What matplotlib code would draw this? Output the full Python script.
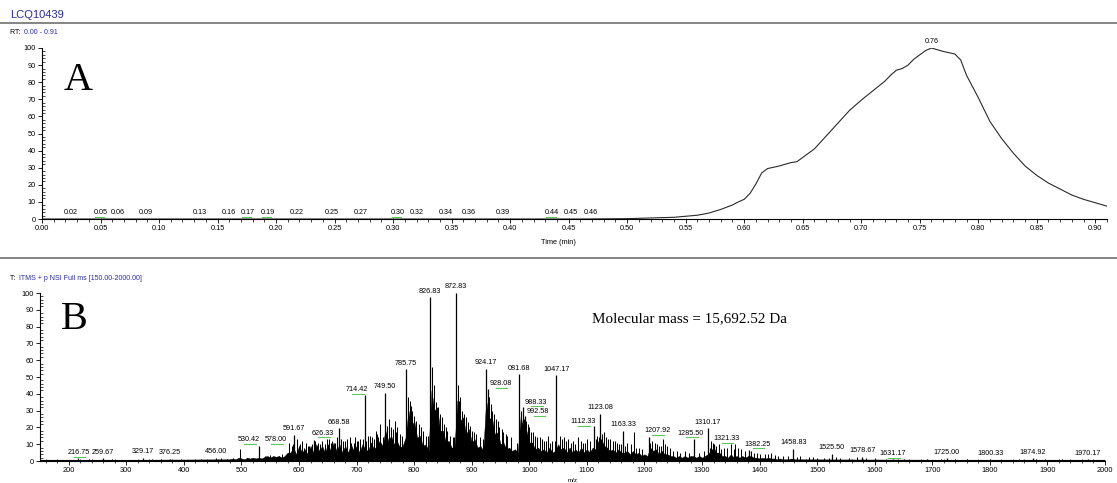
"""
plot.py

Two-panel LC-MS figure:
  A - total ion chromatogram (relative abundance vs time)
  B - full-scan mass spectrum of the protein (relative abundance vs m/z)

Output: out.png
"""

import numpy as np
import matplotlib.pyplot as plt
from matplotlib.lines import Line2D
from matplotlib.ticker import MultipleLocator

# ---------------------------------------------------------------- panel A data
tic_time = [0.00, 0.46, 0.50, 0.52, 0.54, 0.55, 0.56, 0.57, 0.58, 0.59, 0.595,
            0.60, 0.605, 0.61, 0.615, 0.62, 0.63, 0.64, 0.645, 0.65, 0.66, 0.67,
            0.68, 0.69, 0.70, 0.71, 0.72, 0.725, 0.73, 0.735, 0.74, 0.745, 0.75,
            0.755, 0.76, 0.765, 0.77, 0.78, 0.785, 0.79, 0.80, 0.81, 0.82, 0.83,
            0.84, 0.85, 0.86, 0.87, 0.88, 0.89, 0.90, 0.91]
tic_int = [0.0, 0.0, 0.2, 0.6, 1.0, 1.6, 2.2, 3.5, 5.6, 8.2, 10.0,
           11.5, 15.0, 20.5, 27.0, 29.5, 31.0, 33.0, 33.5, 36.0, 41.0, 48.5,
           56.0, 63.5, 69.5, 75.0, 80.5, 84.0, 87.0, 88.0, 90.0, 93.5, 96.0,
           98.5, 100.0, 99.0, 98.0, 96.5, 93.0, 84.0, 71.0, 57.0, 47.0, 38.5,
           31.0, 25.5, 21.0, 17.5, 14.0, 11.5, 9.5, 7.5]

# small noise peaks along the chromatogram baseline: apex time and its label
noise_times = [0.0245, 0.050, 0.065, 0.089, 0.135, 0.160, 0.176, 0.193, 0.218,
               0.248, 0.272, 0.304, 0.320, 0.345, 0.365, 0.394, 0.436, 0.452,
               0.469]
noise_labels = ["0.02", "0.05", "0.06", "0.09", "0.13", "0.16", "0.17", "0.19",
                "0.22", "0.25", "0.27", "0.30", "0.32", "0.34", "0.36", "0.39",
                "0.44", "0.45", "0.46"]
noise_green = [0.050, 0.176, 0.193, 0.304, 0.436]
apex_time = 0.76
apex_int = 100.0

# ---------------------------------------------------------------- panel B data
# dense unresolved "floor" of the spectrum, read every 5 m/z (plus end points)
floor_mz = ([150, 480] + list(range(485, 1460, 5)) + [1460, 2000])
floor_int = (
    [0.5, 1.0] +
    # 485 - 580
    [1.5, 1.0, 2.0, 1.5, 1.0, 2.0, 1.5, 2.0, 1.5, 2.0, 1.5, 2.5, 3.0, 2.0, 3.0,
     2.5, 3.0, 2.0, 3.0, 5.0] +
    # 585 - 680
    [5.0, 8.0, 4.0, 9.0, 5.0, 7.0, 4.0, 9.0, 5.0, 10.0, 6.0, 9.0, 5.0, 10.0,
     6.0, 11.0, 6.0, 10.0, 5.0, 9.0] +
    # 685 - 780
    [5.0, 10.0, 6.0, 9.0, 5.0, 10.0, 7.0, 6.0, 11.0, 7.0, 9.0, 12.0, 9.0, 18.0,
     12.0, 15.0, 10.0, 12.0, 8.0, 9.0] +
    # 785 - 880
    [14.0, 30.0, 20.0, 24.0, 14.0, 15.0, 9.0, 10.0, 6.0, 42.0, 30.0, 32.0,
     18.0, 18.0, 11.0, 12.0, 8.0, 8.0, 36.0, 24.0] +
    # 885 - 980
    [26.0, 16.0, 19.0, 11.0, 13.0, 8.0, 9.0, 6.0, 36.0, 25.0, 26.0, 16.0, 17.0,
     10.0, 11.0, 7.0, 8.0, 6.0, 7.0, 5.0] +
    # 985 - 1080
    [27.0, 18.0, 18.0, 11.0, 11.0, 7.0, 8.0, 6.0, 7.0, 5.0, 8.0, 5.0, 6.0, 10.0,
     7.0, 8.0, 5.0, 8.0, 5.0, 7.0] +
    # 1085 - 1180
    [5.0, 8.0, 5.0, 7.0, 5.0, 8.0, 7.0, 12.0, 13.0, 9.0, 8.0, 6.0, 7.0, 5.0,
     7.0, 5.0, 5.0, 6.0, 4.0, 6.0] +
    # 1185 - 1280
    [4.0, 5.0, 3.0, 4.0, 3.0, 8.0, 6.0, 7.0, 4.0, 6.0, 4.0, 4.0, 3.0, 3.0, 2.0,
     3.0, 2.0, 3.0, 2.0, 3.0] +
    # 1285 - 1380
    [3.0, 2.0, 3.0, 2.0, 3.0, 4.0, 6.0, 8.0, 5.0, 5.0, 3.0, 3.0, 2.0, 4.0, 2.0,
     3.0, 2.0, 3.0, 2.0, 3.0] +
    # 1385 - 1455
    [3.0, 2.0, 2.0, 1.5, 2.0, 1.5, 2.0, 1.5, 1.5, 1.0, 1.5, 1.0, 1.0, 1.0, 1.5] +
    [1.0, 0.5]
)

# labelled peaks (m/z, relative abundance)
peak_mz = [216.75, 259.67, 329.17, 376.25, 456.00, 530.42, 578.00, 591.67,
           626.33, 668.58, 714.42, 749.50, 785.75, 826.83, 872.83, 924.17,
           928.08, 981.68, 988.33, 992.58, 1047.17, 1112.33, 1123.08, 1163.33,
           1207.92, 1285.50, 1310.17, 1321.33, 1382.25, 1458.83, 1525.50,
           1578.67, 1631.17, 1725.00, 1800.33, 1874.92, 1970.17]
peak_int = [1.5, 1.5, 2.0, 1.2, 2.0, 9.0, 3.5, 15.5,
            12.5, 19.5, 39.0, 40.5, 54.5, 97.5, 100.0, 55.0,
            43.0, 51.5, 32.0, 27.0, 51.0, 21.0, 28.0, 18.0,
            14.5, 13.0, 19.5, 10.0, 6.5, 7.4, 4.4,
            2.5, 1.0, 1.5, 1.0, 1.5, 1.0]
# the spectrum software prints some labels as shown in the figure
peak_text = {981.68: "081.68"}
green_marked = [216.75, 530.42, 578.00, 626.33, 714.42, 928.08, 988.33, 992.58,
                1112.33, 1207.92, 1285.50, 1321.33, 1382.25, 1631.17]

# other visible spikes, as (m/z, relative abundance) pairs
spikes = [
    (165, 0.8), (185, 0.8), (235, 1.0), (245, 0.8), (275, 1.0), (290, 0.8),
    (310, 0.8), (345, 1.0), (360, 1.0), (395, 1.0), (410, 0.8), (430, 1.0),
    (465, 1.5), (475, 1.2), (485, 1.5), (497, 7.4), (510, 1.5), (520, 2.0),
    (540, 3.0), (550, 3.5), (565, 3.0), (570, 4.0),
    (583, 11), (587, 9), (590, 10), (596, 13), (602, 10), (605, 12), (608, 8),
    (612, 11), (615, 9), (618, 9), (622, 10), (628, 12), (633, 11), (637, 10),
    (640, 12), (645, 10), (648, 13), (652, 13), (655, 11), (658, 12),
    (663, 11), (666, 14), (673, 13), (676, 12), (680, 12), (684, 13),
    (688, 14), (691, 11), (695, 11), (698, 14), (700, 12), (703, 12),
    (706, 13), (711, 13), (717, 12), (720, 15), (724, 15), (727, 14),
    (730, 13), (733, 18), (736, 16), (738, 14), (741, 22), (745, 14),
    (752, 21), (756, 25), (760, 20), (763, 19), (766, 24), (769, 17),
    (771, 20), (775, 16), (778, 15), (789, 38), (792, 36), (794, 33),
    (797, 30), (800, 27), (803, 24), (808, 22), (811, 20), (815, 18),
    (820, 15), (824, 15), (829, 30), (831, 56), (834, 45), (838, 35),
    (842, 32), (845, 28), (849, 26), (852, 22), (855, 20), (857, 18),
    (862, 15), (867, 14), (870, 14), (876, 45), (878, 36), (880, 38),
    (883, 30), (886, 28), (890, 26), (893, 23), (897, 21), (900, 18),
    (904, 17), (907, 16), (914, 14), (919, 13), (930, 38), (933, 34),
    (936, 30), (939, 28), (942, 25), (945, 24), (948, 20), (952, 19),
    (955, 17), (959, 16), (962, 15), (968, 14), (978, 11), (983, 12),
    (985, 30), (990, 25), (994, 24), (997, 22), (1000, 20), (1003, 17),
    (1007, 17), (1010, 15), (1014, 14), (1018, 14), (1022, 13), (1025, 12),
    (1029, 12), (1033, 15), (1036, 11), (1040, 12), (1044, 12), (1053, 15),
    (1057, 13), (1060, 14), (1064, 12), (1068, 13), (1072, 11), (1075, 12),
    (1080, 10), (1085, 14), (1089, 12), (1093, 11), (1097, 11), (1100, 13),
    (1106, 12), (1115, 13), (1118, 15), (1121, 14), (1127, 16), (1130, 17),
    (1133, 14), (1137, 13), (1140, 13), (1145, 12), (1148, 12), (1152, 11),
    (1155, 10), (1160, 10), (1167, 9), (1170, 11), (1177, 10), (1182, 17.5),
    (1186, 8), (1190, 8), (1195, 7), (1210, 11), (1213, 12), (1218, 11),
    (1222, 10), (1225, 9), (1229, 9), (1232, 13), (1236, 10), (1240, 9),
    (1245, 8), (1250, 6), (1256, 6), (1262, 5), (1270, 6), (1277, 5),
    (1295, 5), (1303, 6), (1313, 8), (1316, 12), (1319, 11), (1325, 9),
    (1329, 10), (1333, 7), (1338, 8), (1343, 8), (1350, 10), (1355, 7),
    (1358, 10), (1363, 8), (1368, 7), (1375, 6), (1385, 6), (1390, 5),
    (1395, 5), (1400, 4), (1410, 4), (1415, 4), (1420, 5), (1426, 3.5),
    (1432, 3), (1440, 3), (1450, 3), (1465, 2.5), (1470, 3), (1485, 2.5),
    (1492, 2.5), (1500, 2), (1512, 2), (1520, 2), (1532, 2.5), (1540, 2),
    (1555, 2), (1570, 2.5), (1585, 2), (1600, 1.5), (1650, 1), (1690, 1),
    (1715, 1.2), (1740, 1.2), (1760, 1), (1850, 1), (1880, 1.3), (1895, 1),
    (1925, 1),
]
spike_mz = [s[0] for s in spikes]
spike_int = [s[1] for s in spikes]

# ---------------------------------------------------------------- style
BLUE = "#2a2aa8"
GREEN = "#5cc85c"
SANS = ["Liberation Sans", "DejaVu Sans"]
SERIF = ["Liberation Serif", "DejaVu Serif"]
TICK_FS = 5.3
LABEL_FS = 5.2

# label positions that the instrument software pushed aside to avoid overlap
# (m/z shift, label height)
label_moves = {530.42: (-18, 9.0), 578.00: (-18, 9.0),
               626.33: (15, 13.0), 714.42: (-14, 39.0), 928.08: (22, 42.5),
               988.33: (23, 31.5), 992.58: (23, 26.0), 1112.33: (-19, 20.0),
               1207.92: (14, 14.5), 1285.50: (-5, 13.0), 1321.33: (21, 10.0),
               1382.25: (14, 6.5)}

plt.rcParams["font.family"] = SANS
plt.rcParams["axes.linewidth"] = 0.8


def style_axis(ax):
    for side in ("top", "right"):
        ax.spines[side].set_visible(False)
    ax.tick_params(axis="both", which="major", labelsize=TICK_FS, length=3,
                   width=0.6, pad=1.5, direction="out")
    ax.tick_params(axis="y", which="minor", length=2, width=0.5, direction="in")
    ax.tick_params(axis="x", which="minor", length=2, width=0.5, direction="out")
    ax.yaxis.set_major_locator(MultipleLocator(10))
    ax.yaxis.set_minor_locator(MultipleLocator(2))
    ax.set_ylim(0, 100)


def main():
    W, H = 1117, 483
    fig = plt.figure(figsize=(W / 100, H / 100), dpi=100)

    def fx(px):
        return px / W

    def fy(py):
        return 1 - py / H

    # header and separators
    fig.text(fx(10), fy(15), "LCQ10439", color=BLUE, fontsize=8, va="center")
    fig.add_artist(Line2D([0, 1], [fy(23), fy(23)], color="#707070", lw=1.2))
    fig.text(fx(10), fy(33), "RT: ", fontsize=5.0, va="center")
    fig.text(fx(24), fy(33), "0.00 - 0.91", color=BLUE, fontsize=5.0,
             va="center")
    fig.add_artist(Line2D([0, 1], [fy(258), fy(258)], color="#707070", lw=1.2))
    fig.text(fx(10), fy(278), "T: ", fontsize=5.0, va="center")
    fig.text(fx(19), fy(278), "ITMS + p NSI Full ms [150.00-2000.00]",
             color=BLUE, fontsize=5.0, va="center")

    # ------------------------------------------------------------ panel A
    axA = fig.add_axes([fx(42), fy(219), fx(1107 - 42), fy(48) - fy(219)])
    style_axis(axA)
    axA.plot(tic_time, tic_int, color="#2a2a2a", lw=0.8)
    axA.set_xlim(0, 0.91)
    axA.xaxis.set_major_locator(MultipleLocator(0.05))
    axA.xaxis.set_minor_locator(MultipleLocator(0.01))
    axA.xaxis.set_major_formatter(plt.FuncFormatter(lambda v, p: f"{v:.2f}"))
    axA.text(0.485, -0.14, "Time (min)", transform=axA.transAxes,
             fontsize=TICK_FS, ha="center", va="center")
    for t, lab in zip(noise_times, noise_labels):
        axA.text(t, 1.6, lab, fontsize=LABEL_FS, ha="center", va="bottom")
    for t in noise_green:
        axA.plot([t - 0.005, t + 0.003], [1.2, 1.2], color=GREEN, lw=0.8)
    axA.text(apex_time, apex_int + 1.5, f"{apex_time:.2f}", fontsize=LABEL_FS,
             ha="center", va="bottom", clip_on=False)
    axA.text(0.02, 0.92, "A", transform=axA.transAxes, fontsize=29,
             family=SERIF, va="top", ha="left")

    # ------------------------------------------------------------ panel B
    axB = fig.add_axes([fx(40), fy(461), fx(1105 - 40), fy(293) - fy(461)])
    style_axis(axB)
    axB.set_xlim(150, 2000)
    axB.xaxis.set_minor_locator(MultipleLocator(20))
    axB.set_xticks(np.arange(200, 2001, 100))
    axB.tick_params(axis="x", which="minor", direction="inout", length=3)

    axB.fill_between(floor_mz, 0, floor_int, color="black", lw=0.3,
                     edgecolor="black")
    axB.vlines(spike_mz, 0, spike_int, color="black", lw=0.75)
    axB.vlines(peak_mz, 0, peak_int, color="black", lw=0.9)
    axB.axhline(0.4, color="black", lw=0.8)

    for mz, inten in zip(peak_mz, peak_int):
        shift, y = label_moves.get(mz, (0, inten))
        x = mz + shift
        axB.text(x, y + 1.5, peak_text.get(mz, f"{mz:.2f}"), fontsize=LABEL_FS,
                 ha="center", va="bottom", clip_on=False)
        if mz in green_marked:
            axB.plot([x - 8, x + 12], [y + 1.0, y + 1.0], color=GREEN, lw=0.8)

    axB.text(0.5, -0.115, "m/z", transform=axB.transAxes, fontsize=4.5,
             ha="center", va="center")
    axB.text(0.02, 0.95, "B", transform=axB.transAxes, fontsize=29,
             family=SERIF, va="top", ha="left")
    axB.text((592 - 40) / 1065, 0.85, "Molecular mass = 15,692.52 Da",
             transform=axB.transAxes, fontsize=10.9, family=SERIF,
             va="center", ha="left")

    fig.savefig("out.png", dpi=100)
    plt.close(fig)


if __name__ == "__main__":
    main()
